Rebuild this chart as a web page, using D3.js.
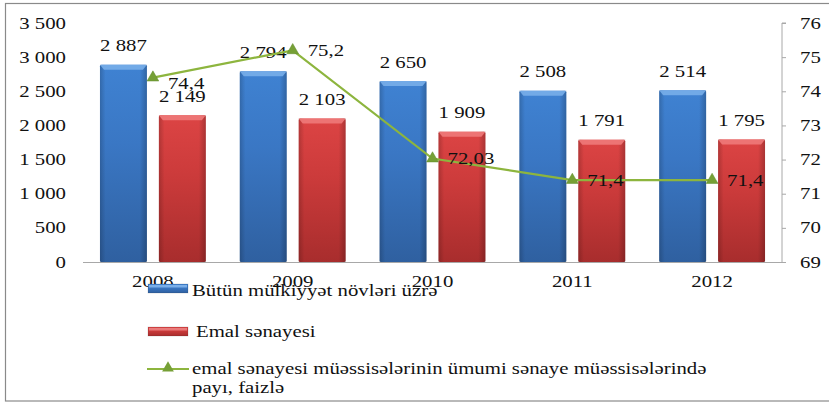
<!DOCTYPE html>
<html><head><meta charset="utf-8">
<script src="https://cdn.jsdelivr.net/npm/d3@7"></script>
<style>body{margin:0;background:#fff}svg{display:block}text{font-family:"Liberation Serif","DejaVu Serif",serif;fill:#111}</style>
</head><body>
<svg id="c" width="829" height="404"></svg>
<script>
const years = ["2008","2009","2010","2011","2012"];
const allOwnership = [2887, 2794, 2650, 2508, 2514];
const processing = [2149, 2103, 1909, 1791, 1795];
const sharePct = [74.4, 75.2, 72.03, 71.4, 71.4];
const leftTicks = [0,500,1000,1500,2000,2500,3000,3500];
const rightTicks = [69,70,71,72,73,74,75,76];
const legendLabels = ["Bütün mülkiyyət  növləri üzrə","Emal sənayesi","emal sənayesi müəssisələrinin ümumi sənaye müəssisələrində","payı, faizlə"];

const SX = 1.3, FS = 16;
const svg = d3.select("#c");
const fmtThousands = v => { const s = String(v); return s.length>3 ? s.slice(0,s.length-3)+" "+s.slice(-3) : s; };
const fmtComma = v => String(v).replace(".", ",");
function txt(g, x, y, s, anchor){
  return g.append("text").attr("transform",`translate(${x},${y}) scale(${SX},1)`)
    .attr("text-anchor",anchor||"start").attr("font-size",FS).text(s);
}

// frame
svg.append("rect").attr("x",5.5).attr("y",3.5).attr("width",840).attr("height",397.5)
  .attr("fill","none").attr("stroke","#8a8a8a").attr("stroke-width",1.2);

const defs = svg.append("defs");
function grad(id, c1, c2, c3){
  const g = defs.append("linearGradient").attr("id",id).attr("x1",0).attr("y1",0).attr("x2",0).attr("y2",1);
  g.append("stop").attr("offset","0%").attr("stop-color",c1);
  g.append("stop").attr("offset","40%").attr("stop-color",c2);
  g.append("stop").attr("offset","100%").attr("stop-color",c3);
  const h = defs.append("linearGradient").attr("id",id+"h").attr("x1",0).attr("y1",0).attr("x2",1).attr("y2",0);
  h.append("stop").attr("offset","0%").attr("stop-color","#000").attr("stop-opacity",0.18);
  h.append("stop").attr("offset","12%").attr("stop-color","#000").attr("stop-opacity",0);
  h.append("stop").attr("offset","85%").attr("stop-color","#000").attr("stop-opacity",0);
  h.append("stop").attr("offset","100%").attr("stop-color","#000").attr("stop-opacity",0.22);
}
grad("gb","#3f82d2","#3a77c4","#2f60a0");
grad("gr","#dc4444","#cc3b3b","#a82d2d");

const L = 83, R = 782, T = 23, B = 262;
const x0 = d3.scaleBand().domain(years).range([L,R]).padding(0);
const x1 = d3.scaleBand().domain(["a","b"]).range([0,x0.bandwidth()]).paddingInner(0.203).paddingOuter(0.288);
const yL = d3.scaleLinear().domain([0,3500]).range([B,T]);
const yR = d3.scaleLinear().domain([69,76]).range([B,T]);

// left tick labels
const gl = svg.append("g");
leftTicks.forEach(t => txt(gl, 66, yL(t)+5.5, fmtThousands(t), "end"));

// right axis
const ar = svg.append("g").attr("transform",`translate(${R},0)`)
  .call(d3.axisRight(yR).tickValues(rightTicks).tickSize(4).tickFormat(""));
ar.select(".domain").attr("stroke","#a8a8a8");
ar.selectAll(".tick line").attr("stroke","#a8a8a8");
ar.selectAll(".domain").attr("d",`M4,${T}H0V${B}`);
const gr2 = svg.append("g");
rightTicks.forEach(t => txt(gr2, 800, yR(t)+5.5, String(t), "start"));

// bars
const series = [{k:"a",vals:allOwnership,fill:"gb",top:"#78aee9"},{k:"b",vals:processing,fill:"gr",top:"#ee7a7a"}];
series.forEach(s => {
  years.forEach((yr,i) => {
    const bx = x0(yr)+x1(s.k), bw = x1.bandwidth(), by = yL(s.vals[i]), bh = B-by;
    svg.append("rect").attr("x",bx).attr("y",by).attr("width",bw).attr("height",bh).attr("fill",`url(#${s.fill})`)
      .attr("rx",1.5);
    svg.append("rect").attr("x",bx).attr("y",by).attr("width",bw).attr("height",bh).attr("fill",`url(#${s.fill}h)`);
    svg.append("path").attr("d",`M${bx},${by}h${bw}l-4,5h${-(bw-8)}z`).attr("fill",s.top).attr("opacity",0.9);
    txt(svg, bx+bw/2, by-13.5, fmtThousands(s.vals[i]), "middle");
  });
});

// x axis
svg.append("line").attr("x1",L).attr("x2",R).attr("y1",B+0.5).attr("y2",B+0.5).attr("stroke","#a8a8a8").attr("stroke-width",1.2);
years.forEach(yr => txt(svg, x0(yr)+x0.bandwidth()/2, 287, yr, "middle"));

// line
const cx = yr => x0(yr)+x0.bandwidth()/2;
const lineGen = d3.line().x((d,i)=>cx(years[i])).y(d=>yR(d));
svg.append("path").datum(sharePct).attr("d",lineGen).attr("fill","none").attr("stroke","#8db53e").attr("stroke-width",2.2);
const tri = d3.symbol().type(d3.symbolTriangle).size(60);
sharePct.forEach((v,i) => {
  svg.append("path").attr("d",tri).attr("transform",`translate(${cx(years[i])},${yR(v)})`).attr("fill","#76a036").attr("stroke","#5f8a2a").attr("stroke-width",0.5);
  txt(svg, cx(years[i])+15, yR(v)+5.5+(i===0?6:0), fmtComma(v), "start");
});

// legend
const lg = svg.append("g");
function swatch(y, f, top){
  lg.append("rect").attr("x",148).attr("y",y).attr("width",40).attr("height",9).attr("fill",`url(#${f})`).attr("stroke","#333").attr("stroke-opacity",0.3).attr("stroke-width",0.5);
  lg.append("rect").attr("x",149).attr("y",y+1).attr("width",38).attr("height",2.5).attr("fill",top).attr("opacity",0.8);
}
swatch(284,"gb","#8bbcf0");
txt(lg, 192, 296, legendLabels[0]);
swatch(327,"gr","#f08a8a");
txt(lg, 196, 337, legendLabels[1]);
lg.append("line").attr("x1",147).attr("x2",189).attr("y1",369).attr("y2",369).attr("stroke","#8db53e").attr("stroke-width",2);
lg.append("path").attr("d",tri).attr("transform","translate(168,368)").attr("fill","#76a036");
txt(lg, 192, 374, legendLabels[2]);
txt(lg, 192, 393, legendLabels[3]);
</script>
</body></html>
